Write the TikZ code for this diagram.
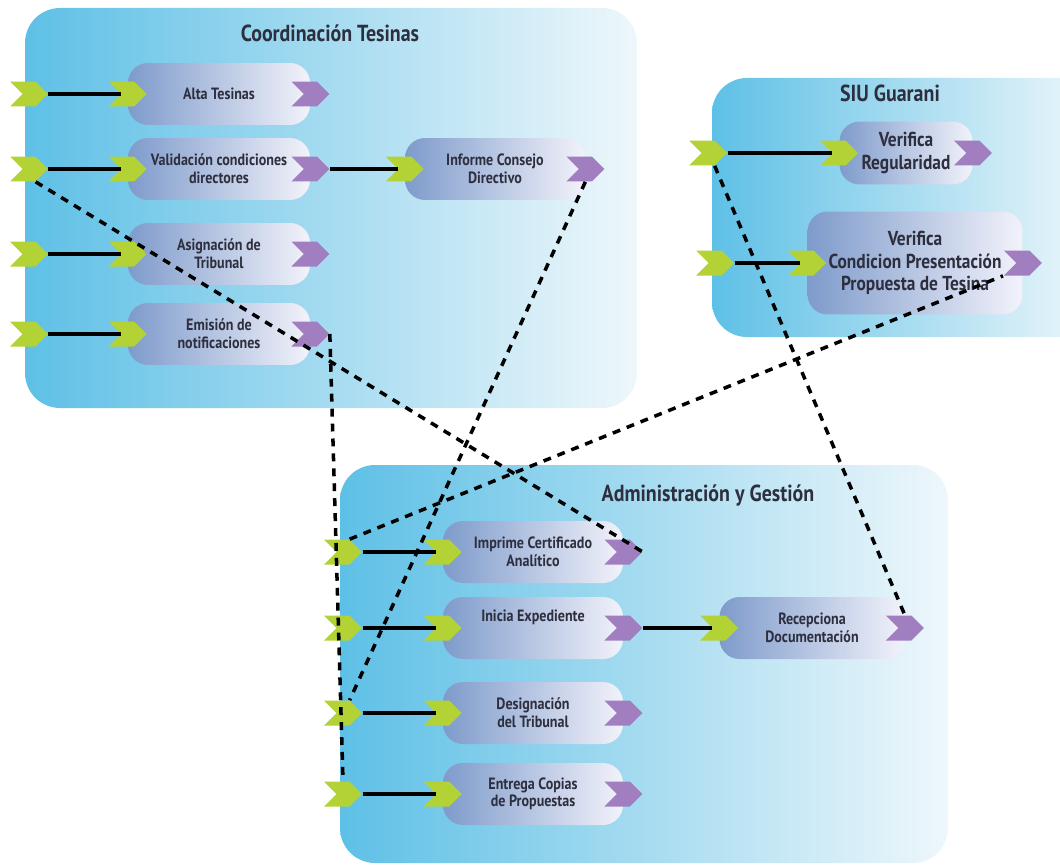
\documentclass[tikz,border=0pt]{standalone}
\usepackage{fontspec}
\setmainfont{PT Sans}[FakeStretch=0.86]
\usetikzlibrary{shapes.symbols}
\definecolor{poolsky}{HTML}{5EC0E6}
\definecolor{poolmist}{HTML}{EEF7FB}
\definecolor{taskblue}{HTML}{7E9BCB}
\definecolor{taskmist}{HTML}{F2F2FA}
\definecolor{inkdark}{HTML}{2E2F3E}
\definecolor{portgreen}{HTML}{B2D236}
\definecolor{portpurple}{HTML}{A07EC0}
\tikzset{pool/.style={rounded corners=0.7cm, left color=poolsky, right color=poolmist},
         pooltitle/.style={text=inkdark, font=\bfseries\fontsize{13.2}{15}\selectfont},
         task/.style={rounded corners=0.4cm, left color=taskblue, right color=taskmist, text=inkdark,
                      align=center, minimum width=3.6cm, minimum height=1.24cm,
                      font=\bfseries\fontsize{9.3}{10}\selectfont},
         bigtask/.style={task, font=\bfseries\fontsize{11.5}{12.8}\selectfont},
         inport/.style={signal, signal from=west, signal to=east, fill=portgreen,
                        minimum width=0.76cm, minimum height=0.5cm, inner sep=0pt},
         outport/.style={inport, fill=portpurple},
         link/.style={line width=2pt},
         trace/.style={line width=2pt, dash pattern=on 4.5pt off 4pt},
        }

\begin{document}
\begin{tikzpicture}[x=0.02cm, y=-0.02cm]
        \clip (0,0) rectangle (1060,865);

        % Coordinacion Tesinas
        \path[pool] (25,8) rectangle (637,408);
        \node[pooltitle](coord)at(330,33){Coordinación Tesinas};
        \node[task, minimum width=3.64cm](alta)at(219,94){Alta Tesinas};
        \node[task, minimum width=3.64cm](valid)at(219,169){Validación condiciones\\directores};
        \node[task, minimum width=3.64cm](asign)at(219,254){Asignación de\\Tribunal};
        \node[task, minimum width=3.64cm](emision)at(219,334){Emisión de\\notificaciones};
        \node[task](informe)at(495,169){Informe Consejo\\Directivo};

        \node[inport](alta-src)at(29,94){};
        \node[inport](valid-src)at(29,169){};
        \node[inport](asign-src)at(29,254){};
        \node[inport](emision-src)at(29,334){};
        \node[inport](alta-in)at(alta.west){};
        \node[inport](valid-in)at(valid.west){};
        \node[inport](asign-in)at(asign.west){};
        \node[inport](emision-in)at(emision.west){};
        \node[inport](informe-in)at(informe.west){};
        \node[outport](alta-out)at(alta.east){};
        \node[outport](valid-out)at(valid.east){};
        \node[outport](asign-out)at(asign.east){};
        \node[outport](emision-out)at(emision.east){};
        \node[outport](informe-out)at(informe.east){};

        \draw[link](alta-src)--(alta-in);
        \draw[link](valid-src)--(valid-in);
        \draw[link](asign-src)--(asign-in);
        \draw[link](emision-src)--(emision-in);
        \draw[link](valid-out)--(informe-in);

        % SIU Guarani
        \path[pool] (712,78) rectangle (1095,337);
        \node[pooltitle](siu)at(890,93){SIU Guarani};
        \node[bigtask, minimum width=2.66cm, minimum height=1.26cm](vreg)at(906,153){Verifica\\Regularidad};
        \node[bigtask, minimum width=4.3cm, minimum height=2.06cm](vcond)at(915,263){Verifica\\Condicion Presentación\\Propuesta de Tesina};

        \node[inport](vreg-src)at(708,153){};
        \node[inport](vcond-src)at(715,263){};
        \node[inport](vreg-in)at(vreg.west){};
        \node[inport](vcond-in)at(vcond.west){};
        \node[outport](vreg-out)at(vreg.east){};
        \node[outport](vcond-out)at(vcond.east){};

        \draw[link](vreg-src)--(vreg-in);
        \draw[link](vcond-src)--(vcond-in);

        % Administracion y Gestion
        \path[pool] (340,465) rectangle (948,863);
        \node[pooltitle](admin)at(708,496){Administración y Gestión};
        \node[task](imprime)at(533,552){Imprime Certificado\\Analítico};
        \node[task](inicia)at(533,628){Inicia Expediente\\[4pt]};
        \node[task](design)at(533,713){Designación\\del Tribunal};
        \node[task](entrega)at(533,794){Entrega Copias\\de Propuestas};
        \node[task, minimum width=3.7cm](recep)at(812,628){Recepciona\\Documentación};

        \node[inport](imprime-src)at(343,552){};
        \node[inport](inicia-src)at(343,628){};
        \node[inport](design-src)at(343,713){};
        \node[inport](entrega-src)at(343,794){};
        \node[inport](imprime-in)at(imprime.west){};
        \node[inport](inicia-in)at(inicia.west){};
        \node[inport](design-in)at(design.west){};
        \node[inport](entrega-in)at(entrega.west){};
        \node[inport](recep-in)at(recep.west){};
        \node[outport](imprime-out)at(imprime.east){};
        \node[outport](inicia-out)at(inicia.east){};
        \node[outport](design-out)at(design.east){};
        \node[outport](entrega-out)at(entrega.east){};
        \node[outport](recep-out)at(recep.east){};

        \draw[link](imprime-src)--(imprime-in);
        \draw[link](inicia-src)--(inicia-in);
        \draw[link](design-src)--(design-in);
        \draw[link](entrega-src)--(entrega-in);
        \draw[link](inicia-out)--(recep-in);

        % dependencies between the pools
        \draw[trace](valid-src.south east)--(imprime-out.east);
        \draw[trace](emision-out.east)--(entrega-src.north);
        \draw[trace](informe-out.south)--(design-src.north east);
        \draw[trace](imprime-src.north east)--(vcond-out.south west);
        \draw[trace](vreg-src.south east)--(recep-out.north);
    \end{tikzpicture}
\end{document}
